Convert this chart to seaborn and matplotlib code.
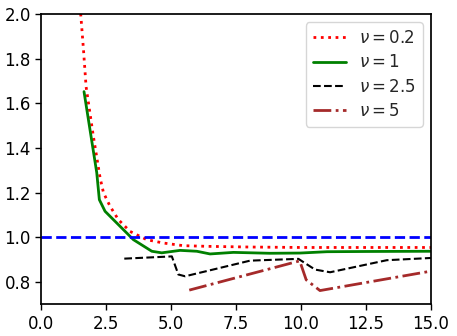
import matplotlib
matplotlib.use("Agg")
import matplotlib.pyplot as plt
import seaborn as sns

# nu = 0.2
x_02 = [1.45, 1.53, 1.63, 1.73, 2.0, 2.27, 2.4, 2.65, 2.97, 3.42, 4.06, 4.7, 5.47, 6.43, 8.0, 10.0, 12.5, 15.0]
y_02 = [2.08, 1.99, 1.84, 1.675, 1.46, 1.266, 1.2, 1.14, 1.08, 1.027, 0.99, 0.975, 0.963, 0.96, 0.957, 0.955, 0.955, 0.955]

# nu = 1
x_1 = [1.65, 2.14, 2.24, 2.46, 3.55, 4.26, 4.64, 5.35, 5.99, 6.5, 7.4, 8.8, 9.96, 11.0, 12.5, 15.0]
y_1 = [1.653, 1.29, 1.169, 1.117, 0.99, 0.938, 0.931, 0.942, 0.938, 0.926, 0.933, 0.929, 0.93, 0.936, 0.937, 0.938]

# nu = 2.5
x_25 = [3.2, 5.03, 5.28, 5.54, 8.04, 9.9, 10.54, 11.12, 13.3, 15.0]
y_25 = [0.905, 0.915, 0.834, 0.826, 0.896, 0.904, 0.856, 0.844, 0.898, 0.908]

# nu = 5
x_5 = [5.7, 9.95, 10.2, 10.73, 15.0]
y_5 = [0.764, 0.895, 0.81, 0.762, 0.849]

sns.set_theme(style="ticks", rc={"axes.edgecolor": "black", "xtick.color": "black",
                                  "ytick.color": "black"})
plt.rcParams["font.family"] = ["DejaVu Sans"]
plt.rcParams["font.size"] = 12

fig = plt.figure(figsize=(4.57, 3.36), dpi=100)
ax = fig.add_axes([0.09, 0.094, 0.853, 0.864])

sns.lineplot(x=x_02, y=y_02, color="red", ls=":", lw=2, label=r"$\nu = 0.2$", ax=ax)
sns.lineplot(x=x_1, y=y_1, color="green", ls="-", lw=2, label=r"$\nu = 1$", ax=ax)
sns.lineplot(x=x_25, y=y_25, color="black", ls="--", lw=1.5, label=r"$\nu = 2.5$", ax=ax)
sns.lineplot(x=x_5, y=y_5, color="brown", ls="-.", lw=2, label=r"$\nu = 5$", ax=ax)
ax.axhline(1.0, color="blue", ls="--", lw=2)

ax.set_xlim(0, 15)
ax.set_ylim(0.7, 2.0)
ax.set_xticks([0, 2.5, 5, 7.5, 10, 12.5, 15])
ax.set_yticks([0.8, 1.0, 1.2, 1.4, 1.6, 1.8, 2.0])
ax.tick_params(labelsize=12, length=4, width=1)
ax.legend(loc="upper right", fontsize=12, labelspacing=0.38)

fig.savefig("out.png", dpi=100)
